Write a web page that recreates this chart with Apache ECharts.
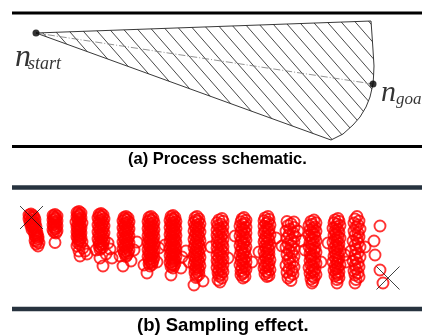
<!DOCTYPE html>
<html>
<head>
<meta charset="utf-8">
<script src="https://cdn.jsdelivr.net/npm/echarts@6.0.0/dist/echarts.min.js"></script>
<style>
  html, body { margin: 0; padding: 0; background: #fff; }
  #chart { width: 422px; height: 335px; }
</style>
</head>
<body>
<div id="chart"></div>
<script>
// plane is measured in picture units: x to the right, y downwards
const ruleRows = [13, 146.5, 187.5, 309];
const ruleSpan = [12, 422];

const startNode = [36, 33];
const goalNode = [373, 84];
// outline of the explored fan (start, top corner, then down the arc)
const fanOutline = [
  [36, 33], [371, 21], [372, 35], [373, 50], [374, 66], [373.5, 77], [373, 84],
  [370, 97], [366, 107], [360, 117], [353, 125], [343, 134], [331, 140]
];

const captions = ['(a) Process schematic.', '(b) Sampling effect.'];

// sampled nodes, one array per sampling round
const col01 = [[31,214],[29,215],[33,215.5],[30,216.5],[34,217],[32,218],[29,219],[35,219.5],[31,220.5],[33,221.5],[30,222.5],[35,223],[32,224],[34,225],[31,226],[36,226.5],[33,227.5],[35,228.5],[32,229.5],[36,230.5],[34,231.5],[37,232.5],[35,233.5],[37,234.5],[35,235.5],[38,236.5],[36,237.5],[38,239],[35,240.5],[37,241.5],[39,243],[36,244],[38,246]];
const col02 = [[55,214.5],[53,215.5],[57,216],[54,217],[56,218],[55,219],[53,220],[57,221],[54,222],[56,223],[55,224],[53,225],[57,226],[54,227],[56,228],[55,229],[53,230],[57,231],[54,232],[56,233],[55,242.5]];
const col03 = [[79,211.5],[77,212.5],[81,213],[78,214],[80,215],[79,216],[77,217],[81,218],[78,219],[80,220],[79,221],[76,222],[82,223],[78,224],[80,225],[79,226],[77,227],[81,228],[78,229],[80,230],[79,231],[77,232],[81,233],[78,234],[80,235],[79,236],[77,237],[81,238],[78,239],[80,240],[79,241],[82,242],[78,243],[80,244.5],[77,246],[83,248],[79,251],[85,251],[80,256],[87,254]];
const col04 = [[101,213.5],[99,214.5],[103,215],[100,216],[102,217],[98,218],[104,219],[101,220],[99,221],[103,222],[100,223],[102,224],[98,225],[104,226],[101,227],[99,228],[103,229],[100,230],[102,231],[98,232],[104,233],[101,234],[99,235],[103,236],[100,237],[102,238],[98,239],[104,240],[101,241],[99,242],[103,243],[100,244],[102,245],[99,246],[103,247],[101,248],[100,249.5],[96,250],[110,249],[108,243],[106,254],[100,258],[112,258],[103,266]];
const col05 = [[126,216.5],[124,217.5],[128,218],[125,219],[127,220],[123,221],[129,222],[126,223],[124,224],[128,225],[125,226],[127,227],[123,228],[129,229],[126,230],[124,231],[128,232],[125,233],[127,234],[123,235],[129,236],[126,237],[124,238],[128,239],[125,240],[127,241],[123,242],[129,243],[126,244],[124,245],[128,246],[125,247],[127,248],[123,249],[129,250],[126,251],[124,252],[128,253],[125,254],[127,255],[126,256.5],[137,242],[134,250],[120,256],[131,261],[123,266]];
const col06 = [[151,216.5],[149,217.5],[153,218.5],[150,219.5],[152,220.5],[148,221.5],[154,222.5],[151,223.5],[149,224.5],[153,225.5],[150,226.5],[152,227.5],[148,228.5],[154,229.5],[151,230.5],[149,231.5],[153,232.5],[150,233.5],[152,234.5],[148,235.5],[154,236.5],[151,237.5],[149,238.5],[153,239.5],[150,240.5],[152,241.5],[148,242.5],[154,243.5],[151,244.5],[149,245.5],[153,246.5],[150,247.5],[152,248.5],[148,249.5],[154,250.5],[151,251.5],[149,252.5],[153,253.5],[150,254.5],[152,255.5],[148,256.5],[154,257.5],[151,258.5],[149,259.5],[153,260.5],[150,261.5],[152,262.5],[149,263.5],[152,264.5],[150,266],[159,248],[157,262],[144,265],[147,273]];
const col07 = [[173,215.5],[171,216.5],[175,217.5],[172,218.5],[174,219.5],[170,220.5],[176,221.5],[173,222.5],[171,223.5],[175,224.5],[172,225.5],[174,226.5],[170,227.5],[176,228.5],[172,229.5],[174,230.5],[171,231.5],[175,232.5],[173,233.5],[170,234.5],[176,235.5],[172,236.5],[174,237.5],[171,238.5],[175,239.5],[173,240.5],[170,241.5],[176,242.5],[172,243.5],[174,244.5],[171,245.5],[175,246.5],[173,247.5],[170,248.5],[176,249.5],[172,250.5],[174,251.5],[171,252.5],[175,253.5],[173,254.5],[170,255.5],[176,256.5],[172,257.5],[174,258.5],[171,259.5],[175,260.5],[173,261.5],[170,262.5],[175,263.5],[172,264.5],[174,265.5],[171,266.5],[173,268],[165,245],[182,257],[181,268],[171,275]];
const col08 = [[197,216.5],[195,217.7],[199,218.9],[196,220.1],[198,221.3],[194,222.5],[200,223.7],[197,224.9],[195,226.1],[199,227.3],[196,228.5],[198,229.7],[194,230.9],[200,232.1],[196,233.3],[198,234.5],[195,235.7],[199,236.9],[197,238.1],[194,239.3],[200,240.5],[196,241.7],[198,242.9],[195,244.1],[199,245.3],[197,246.5],[194,247.7],[200,248.9],[196,250.1],[198,251.3],[195,252.5],[199,253.7],[197,254.9],[194,256.1],[200,257.3],[196,258.5],[198,259.7],[195,260.9],[199,262.1],[197,263.3],[194,264.5],[200,265.7],[196,266.9],[198,268.1],[195,269.3],[199,270.5],[197,271.7],[195,273],[199,274.5],[197,276],[196,277.5],[186,251],[189,262],[203,281],[194,285]];
const col09 = [[222,218.5],[219,219.9],[223,221.3],[217,222.7],[221,224.1],[218,225.5],[223,226.9],[220,228.3],[217,229.7],[222,231.1],[219,232.5],[223,233.9],[217,235.3],[221,236.7],[218,238.1],[223,239.5],[220,240.9],[217,242.3],[222,243.7],[219,245.1],[223,246.5],[217,247.9],[221,249.3],[218,250.7],[223,252.1],[220,253.5],[217,254.9],[222,256.3],[219,257.7],[223,259.1],[217,260.5],[221,261.9],[218,263.3],[223,264.7],[220,266.1],[217,267.5],[222,268.9],[219,270.3],[223,271.7],[218,273.1],[221,274.5],[219,276],[222,278],[218,280],[220,282],[211,247],[228,258]];
const col10 = [[244,217.5],[242,218.9],[246,220.3],[241,221.7],[245,223.1],[243,224.5],[240,225.9],[246,227.3],[242,228.7],[244,230.1],[241,231.5],[246,232.9],[243,234.3],[240,235.7],[245,237.1],[242,238.5],[246,239.9],[241,241.3],[244,242.7],[243,244.1],[240,245.5],[246,246.9],[242,248.3],[245,249.7],[241,251.1],[244,252.5],[243,253.9],[240,255.3],[246,256.7],[242,258.1],[244,259.5],[241,260.9],[246,262.3],[243,263.7],[240,265.1],[245,266.5],[242,267.9],[246,269.3],[241,270.7],[244,272.1],[243,273.5],[241,275],[245,276.5],[243,278],[235,236],[252,262]];
const col11 = [[268,216.5],[265,217.9],[269,219.3],[264,220.7],[268,222.1],[266,223.5],[270,224.9],[264,226.3],[267,227.7],[269,229.1],[265,230.5],[268,231.9],[264,233.3],[270,234.7],[266,236.1],[268,237.5],[265,238.9],[269,240.3],[264,241.7],[267,243.1],[270,244.5],[265,245.9],[268,247.3],[266,248.7],[269,250.1],[264,251.5],[267,252.9],[269,254.3],[265,255.7],[268,257.1],[266,258.5],[270,259.9],[264,261.3],[267,262.7],[269,264.1],[265,265.5],[268,266.9],[264,268.3],[270,269.7],[266,271.1],[268,272.5],[265,274],[269,275.5],[267,276.5],[276,238],[259,252]];
const col12 = [[287,221.5],[294,222],[291,223.8],[288,225.6],[294,227.4],[290,229.2],[286,231],[293,232.8],[289,234.6],[295,236.4],[287,238.2],[291,240],[294,241.8],[288,243.6],[291,245.4],[286,247.2],[294,249],[289,250.8],[292,252.6],[287,254.4],[294,256.2],[290,258],[288,259.8],[293,261.6],[290,263.4],[286,265.2],[294,267],[289,268.8],[292,270.6],[287,272.4],[293,274.2],[290,276],[288,278],[291,280.5],[302,241],[298,231],[282,246]];
const col13 = [[314,220],[311,221.4],[316,222.8],[312,224.2],[309,225.6],[315,227],[313,228.4],[310,229.8],[316,231.2],[312,232.6],[314,234],[309,235.4],[315,236.8],[311,238.2],[313,239.6],[316,241],[310,242.4],[314,243.8],[312,245.2],[309,246.6],[315,248],[311,249.4],[314,250.8],[316,252.2],[310,253.6],[313,255],[311,256.4],[315,257.8],[312,259.2],[310,260.6],[314,262],[316,263.4],[311,264.8],[313,266.2],[309,267.6],[315,269],[312,270.4],[314,271.8],[310,273.2],[316,274.6],[312,276],[314,277.5],[311,279],[313,281],[312,283],[305,250],[321,262]];
const col14 = [[338,218.5],[335,219.9],[339,221.3],[334,222.7],[337,224.1],[340,225.5],[336,226.9],[333,228.3],[338,229.7],[335,231.1],[339,232.5],[336,233.9],[334,235.3],[338,236.7],[340,238.1],[335,239.5],[337,240.9],[333,242.3],[339,243.7],[336,245.1],[338,246.5],[334,247.9],[337,249.3],[340,250.7],[335,252.1],[338,253.5],[336,254.9],[334,256.3],[339,257.7],[336,259.1],[338,260.5],[333,261.9],[337,263.3],[340,264.7],[335,266.1],[338,267.5],[336,268.9],[334,270.3],[339,271.7],[336,273.1],[338,274.5],[335,276],[339,277.5],[337,279.5],[337,283],[328,243],[345,255]];
const col15 = [[357,216.5],[355,219],[359,221],[354,223],[358,225],[356,227],[360,229],[354,231],[358,233],[355,235],[359,237],[357,239],[353,241],[358,243],[355,245],[360,247],[356,249],[351,251],[358,253],[355,255],[360,257],[356,259],[353,261],[358,263],[355,265],[359,267],[356,269],[354,271],[358,273],[355,275],[359,277],[356,279.5],[355,283],[365,247],[346,262]];
const strayPoints = [[380,226],[374,241],[375,255],[380,270],[383,283]];

const sampleStart = [31.5, 217.5];
const sampleGoal = [388, 278];

const samplePoints = [].concat(
  col01, col02, col03, col04, col05, col06, col07, col08,
  col09, col10, col11, col12, col13, col14, col15, strayPoints
);

// diagonal hatch tile for the fan
function hatchTile(w, h) {
  const c = document.createElement('canvas');
  c.width = w; c.height = h;
  const ctx = c.getContext('2d');
  ctx.strokeStyle = '#333';
  ctx.lineWidth = 0.9;
  [-w, 0, w].forEach((off) => {
    ctx.beginPath();
    ctx.moveTo(off - w, -h);
    ctx.lineTo(off + 2 * w, 2 * h);
    ctx.stroke();
  });
  return c;
}
const hatch = hatchTile(14, 16);

const chart = echarts.init(document.getElementById('chart'), null, { renderer: 'canvas' });

const ruleSeries = ruleRows.map((y, i) => ({
  type: 'line',
  data: ruleSpan.map((x) => [x, y]),
  symbol: 'none',
  silent: true,
  z: 1,
  lineStyle: i < 2
    ? { color: '#000', width: 3 }
    : { color: '#27333f', width: 4.5 }
}));

const serifItalic = { fontFamily: 'Liberation Serif', fontStyle: 'italic', color: '#000' };

chart.setOption({
  animation: false,
  backgroundColor: '#fff',
  title: [
    {
      text: captions[0], left: 128, top: 151, padding: 0,
      textStyle: { fontFamily: 'Liberation Sans', fontWeight: 'bold', fontSize: 16.5, color: '#000' }
    },
    {
      text: captions[1], left: 137, top: 316, padding: 0,
      textStyle: { fontFamily: 'Liberation Sans', fontWeight: 'bold', fontSize: 18.5, color: '#000' }
    }
  ],
  grid: { left: 0, right: 0, top: 0, bottom: 0 },
  xAxis: { type: 'value', min: 0, max: 422, show: false },
  yAxis: { type: 'value', min: 0, max: 335, inverse: true, show: false },
  series: [
    ...ruleSeries,
    {
      type: 'custom',
      silent: true,
      z: 2,
      data: [0],
      renderItem: (params, api) => ({
        type: 'polygon',
        shape: { points: fanOutline.map((p) => api.coord(p)) },
        style: {
          fill: { image: hatch, repeat: 'repeat' },
          stroke: '#222',
          lineWidth: 0.9
        }
      })
    },
    {
      type: 'line',
      data: [startNode, goalNode],
      symbol: 'none',
      silent: true,
      z: 3,
      lineStyle: { color: '#777', width: 0.8, type: [7, 2, 1, 2] }
    },
    {
      type: 'scatter',
      silent: true,
      z: 4,
      symbol: 'circle',
      symbolSize: 7,
      itemStyle: { color: '#000' },
      label: {
        show: true,
        color: '#000',
        rich: {
          n: { ...serifItalic, fontSize: 32, lineHeight: 32, width: 13 },
          s: { ...serifItalic, fontSize: 18, lineHeight: 11, verticalAlign: 'bottom' },
          m: { ...serifItalic, fontSize: 30, lineHeight: 30, width: 15 },
          g: { ...serifItalic, fontSize: 17, lineHeight: 10, verticalAlign: 'bottom' }
        }
      },
      data: [
        { value: startNode, label: { formatter: '{n|n}{s|start}', position: [-17.5, 12] } },
        { value: goalNode, label: { formatter: '{m|n}{g|goal}', position: [11.5, -2] } }
      ]
    },
    {
      type: 'scatter',
      silent: true,
      z: 5,
      symbol: 'circle',
      symbolSize: 11,
      itemStyle: { color: 'rgba(0,0,0,0)', borderColor: '#ff0000', borderWidth: 1.9 },
      data: samplePoints
    },
    {
      type: 'scatter',
      silent: true,
      z: 6,
      symbol: 'path://M0,0L20,20M20,0L0,20',
      symbolSize: 23,
      itemStyle: { color: 'none', borderColor: '#111', borderWidth: 1 },
      data: [sampleStart, sampleGoal]
    }
  ]
});
</script>
</body>
</html>
